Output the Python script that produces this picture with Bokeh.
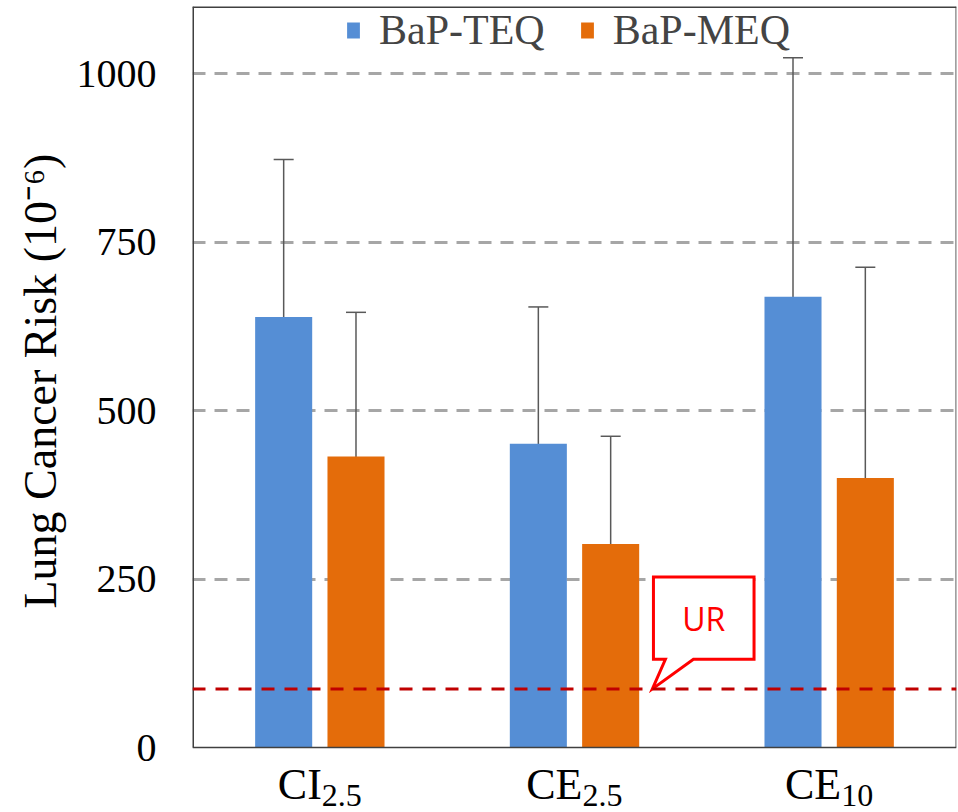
from bokeh.plotting import figure
from bokeh.models import (ColumnDataSource, Whisker, TeeHead, Span, Label,
                          FixedTicker, Range1d, Title)
from bokeh.core.properties import value
from bokeh.embed import file_html
from bokeh.resources import INLINE

# ---- data ----
cat_main = ["CI", "CE", "CE"]
cat_sub = ["2.5", "2.5", "10"]
teq = [639, 451, 669]
teq_err = [234, 203, 355]
meq = [432, 302, 400]
meq_err = [214, 160, 313]
ur_value = 87
y_ticks = [0, 250, 500, 750, 1000]
y_label = "Lung Cancer Risk (10\u207b\u2076)"

# ---- style / layout ----
BLUE = "#558ED5"
ORANGE = "#E46C0A"
SERIF = "Liberation Serif"
FRAME_COLOR = "#404040"
dodge = 0.142
bar_w = 0.224
FRAME_W = 764
FRAME_H = 806          # plot area plus the strip that holds the category labels
ZERO_PX = 741          # pixels from the frame top down to y = 0
Y_TOP = 1100
Y_BOTTOM = -(FRAME_H - ZERO_PX) * Y_TOP / ZERO_PX
N = len(cat_main)

centers = [i + 0.5 for i in range(N)]

p = figure(frame_width=FRAME_W, frame_height=FRAME_H, min_border_left=192,
           min_border_right=2, min_border_top=6, min_border_bottom=0,
           x_range=Range1d(0, N), y_range=Range1d(Y_BOTTOM, Y_TOP),
           output_backend="svg", toolbar_location=None)
p.background_fill_color = "white"
p.border_fill_color = "white"
p.outline_line_color = None

# grid
p.xgrid.visible = False
p.ygrid.ticker = FixedTicker(ticks=[t for t in y_ticks if t > 0])
p.ygrid.grid_line_color = "#A6A6A6"
p.ygrid.grid_line_width = 3
p.ygrid.grid_line_dash = "13 9"

teq_src = ColumnDataSource(dict(
    x=[c - dodge for c in centers], top=teq,
    upper=[v + e for v, e in zip(teq, teq_err)],
    lower=[v - e for v, e in zip(teq, teq_err)]))
meq_src = ColumnDataSource(dict(
    x=[c + dodge for c in centers], top=meq,
    upper=[v + e for v, e in zip(meq, meq_err)],
    lower=[v - e for v, e in zip(meq, meq_err)]))

p.vbar(x="x", top="top", bottom=0, width=bar_w, source=teq_src,
       fill_color=BLUE, line_color=None, legend_label="BaP-TEQ")
p.vbar(x="x", top="top", bottom=0, width=bar_w, source=meq_src,
       fill_color=ORANGE, line_color=None, legend_label="BaP-MEQ")

for src in (teq_src, meq_src):
    w = Whisker(source=src, base="x", upper="upper", lower="lower",
                line_color="#595959", line_width=1.5,
                upper_head=TeeHead(size=20, line_color="#595959", line_width=1.5),
                lower_head=TeeHead(size=20, line_color="#595959", line_width=1.5))
    p.add_layout(w)

# chart box (plot area border), drawn from the axis limits
p.line([0, 0], [0, Y_TOP], line_color=FRAME_COLOR, line_width=3)
p.line([N, N], [0, Y_TOP], line_color="#808080", line_width=2.5)
p.line([0, N], [Y_TOP, Y_TOP], line_color=FRAME_COLOR, line_width=3)
p.add_layout(Span(location=0, dimension="width", line_color=FRAME_COLOR,
                  line_width=1.5))

# UR reference line
p.add_layout(Span(location=ur_value, dimension="width", line_color="#C00000",
                  line_width=3, line_dash="13 10"))

# UR callout (speech bubble) anchored on the UR line
tip_x = 1.806
bx0, bx1, by0, by1 = 1.81, 2.205, ur_value + 44, ur_value + 166
tx0, tx1 = 1.857, 1.967
p.patch([bx0, bx1, bx1, tx1, tip_x, tx0, bx0],
        [by1, by1, by0, by0, ur_value, by0, by0],
        fill_color="white", line_color="#FF0000", line_width=3,
        line_join="miter")
p.add_layout(Label(x=(bx0 + bx1) / 2, y=(by0 + by1) / 2, text="UR",
                   text_color="#FF0000", text_font="Open Sans",
                   text_font_size="32px", text_align="center",
                   text_baseline="middle"))

# axes
p.xaxis.visible = False
p.yaxis.ticker = FixedTicker(ticks=y_ticks)
p.yaxis.axis_line_color = None
p.yaxis.major_tick_line_color = None
p.yaxis.minor_tick_line_color = None
p.yaxis.major_label_standoff = 30
p.yaxis.major_label_text_font = SERIF
p.yaxis.major_label_text_font_size = "40px"
p.yaxis.major_label_text_color = "#000000"

# y-axis title (placed relative to the plot area, not the whole frame)
p.add_layout(Title(text=y_label, align="left", offset=204,
                   text_font=SERIF, text_font_size="46px",
                   text_font_style="normal", text_color="#000000",
                   standoff=16), "left")

# category labels with subscripts
main_offsets = [2, 8, 12]
lab = ColumnDataSource(dict(x=centers, y=[0] * N, main=cat_main,
                            sub=cat_sub, dx=main_offsets))
p.text(x="x", y="y", text="main", x_offset="dx", y_offset=37, source=lab,
       text_align="right", text_baseline="alphabetic",
       text_font=value(SERIF), text_font_size="44px", text_color="#000000")
p.text(x="x", y="y", text="sub", x_offset="dx", y_offset=48, source=lab,
       text_align="left", text_baseline="alphabetic",
       text_font=value(SERIF), text_font_size="32px", text_color="#000000")

# legend
lg = p.legend[0]
lg.orientation = "horizontal"
lg.location = (153, FRAME_H - 48)
lg.label_text_font = SERIF
lg.label_text_font_size = "42px"
lg.glyph_width = 16
lg.glyph_height = 20
lg.label_standoff = 18
lg.spacing = 34
lg.padding = 0
lg.margin = 0
lg.border_line_color = None
lg.background_fill_alpha = 0

open("out.html", "w").write(file_html(p, INLINE))
